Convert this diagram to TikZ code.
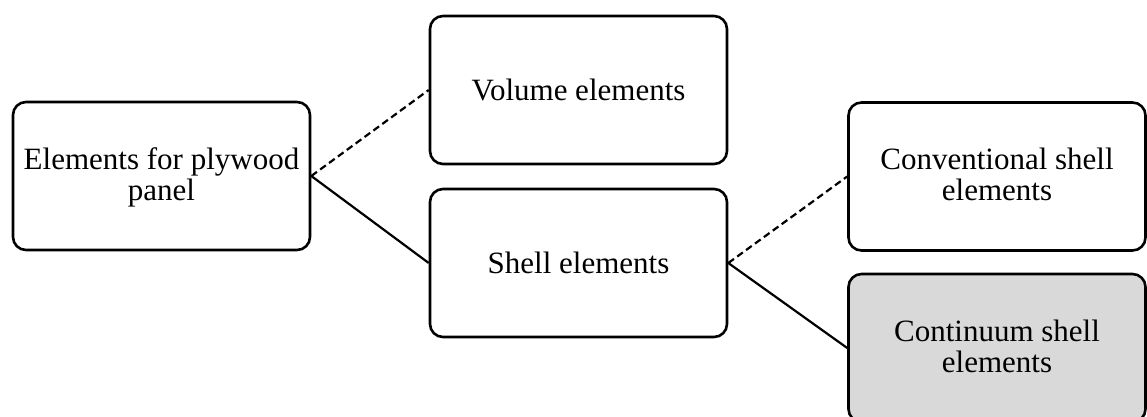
\documentclass[tikz,border=0pt]{standalone}
\usepackage{fontspec}
\setmainfont{Liberation Serif}
\definecolor{shade}{HTML}{D9D9D9}
\begin{document}
\begin{tikzpicture}[x=1pt,y=-1pt,
  box/.style={draw=black, line width=2.6pt, rounded corners=13pt,
    minimum width=297pt, minimum height=148pt, inner sep=0pt,
    align=center, font=\fontsize{31}{31}\selectfont},
  oneline/.style={text height=21pt, text depth=1pt},
  twoline/.style={text height=52pt, text depth=4pt},
  link/.style={line width=2.2pt},
  optlink/.style={line width=2.2pt, dash pattern=on 7pt off 4pt}]
\useasboundingbox (0,0) rectangle (1147,417);
\node[box, twoline] (root) at (161.5,176) {Elements for plywood\\panel};
\node[box, oneline] (vol) at (578.5,90) {Volume elements};
\node[box, oneline] (shell) at (578.5,263) {Shell elements};
\node[box, twoline] (conv) at (997,176.5) {Conventional shell\\elements};
\node[box, twoline, fill=shade] (cont) at (997,348) {Continuum shell\\elements};
\draw[optlink] (root.east) -- (vol.west);
\draw[link] (root.east) -- (shell.west);
\draw[optlink] (shell.east) -- (conv.west);
\draw[link] (shell.east) -- (cont.west);
\end{tikzpicture}
\end{document}
